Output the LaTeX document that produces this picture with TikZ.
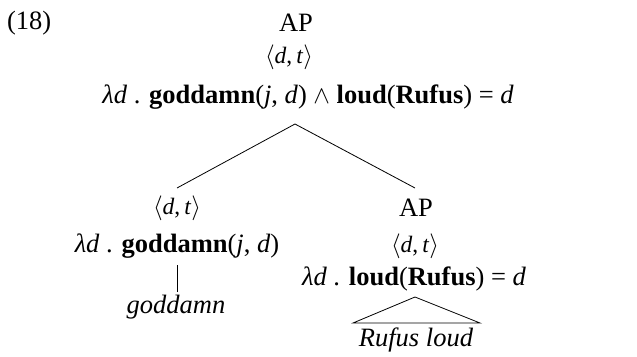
\documentclass[tikz,border=0pt]{standalone}
\usepackage{fontspec}
\setmainfont{Liberation Serif}
\newcommand{\vi}[1]{\textit{#1}}
\newcommand{\typ}{$\langle$\vi{d},\,\vi{t}$\rangle$}
\begin{document}
\begin{tikzpicture}[x=1pt,y=-1pt,
  lbl/.style={inner sep=0pt,outer sep=0pt,anchor=base,font=\fontsize{26.5}{32}\selectfont},
  tlbl/.style={inner sep=0pt,outer sep=0pt,anchor=base,font=\fontsize{23.5}{28}\selectfont},
  edge/.style={line width=0.8pt}]
\useasboundingbox (0,0) rectangle (637,356);
\node[lbl,anchor=base west] (ex) at (7,29) {(18)};
\node[lbl] (ap) at (296,31) {AP};
\node[tlbl] (tt) at (289,63) {\typ};
\node[lbl] (top) at (308,103) {\vi{λd} . \textbf{goddamn}(\vi{j}, \vi{d}) $\wedge$ \textbf{loud}(\textbf{Rufus}) = \vi{d}};
\coordinate (apex) at (295,124);
\coordinate (lend) at (177,188);
\coordinate (rend) at (415,188);
\node[tlbl] (lt) at (177,214) {\typ};
\node[lbl] (lf) at (177,252) {\vi{λd} . \textbf{goddamn}(\vi{j}, \vi{d})};
\coordinate (vt) at (177,265);
\coordinate (vb) at (177,292);
\node[lbl] (lw) at (176,313) {\vi{goddamn}};
\node[lbl] (rap) at (416,216) {AP};
\node[tlbl] (rt) at (415,252) {\typ};
\node[lbl] (rf) at (414,285) {\vi{λd} . \textbf{loud}(\textbf{Rufus}) = \vi{d}};
\coordinate (ta) at (415,297);
\coordinate (tl) at (353,323);
\coordinate (tr) at (480,323);
\node[lbl] (rw) at (416,346) {\vi{Rufus loud}};
\draw[edge] (apex) -- (lend);
\draw[edge] (apex) -- (rend);
\draw[edge] (vt) -- (vb);
\draw[edge] (ta) -- (tl) -- (tr) -- cycle;
\end{tikzpicture}
\end{document}
